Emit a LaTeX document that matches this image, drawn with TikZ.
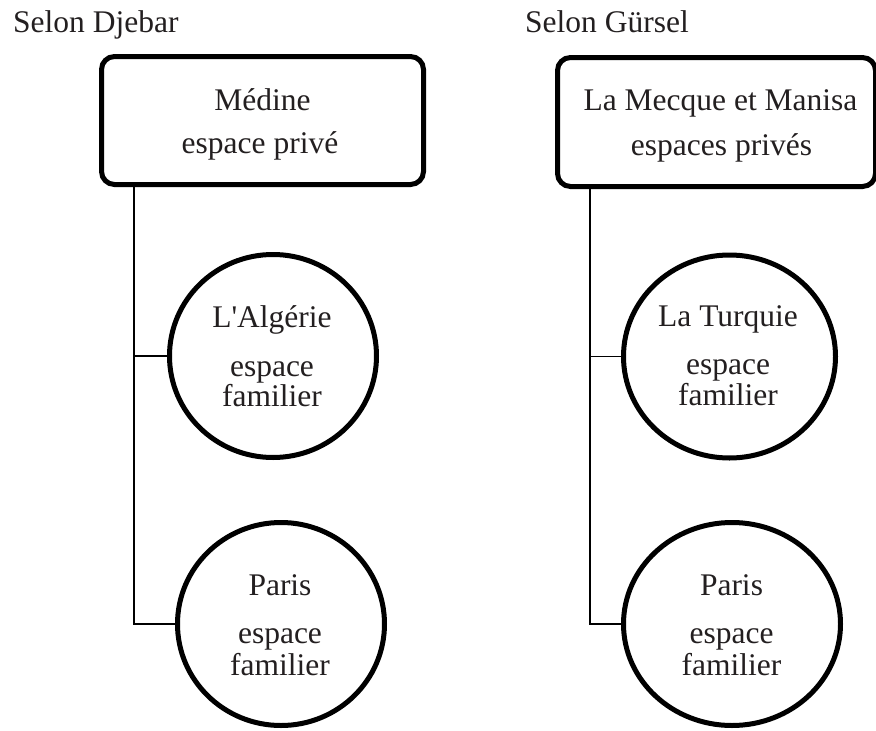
\documentclass[tikz,border=0pt]{standalone}
\usepackage{fontspec}
\setmainfont{Liberation Serif}
\usetikzlibrary{shapes.geometric}
\definecolor{ink}{RGB}{35,31,32}
\begin{document}
\begin{tikzpicture}[x=1pt,y=-1pt,
  txt/.style={anchor=base, inner sep=0pt, text=ink, font=\fontsize{31.5}{31.5}\selectfont},
  placebox/.style={draw=black, line width=5pt, rounded corners=13pt, inner sep=0pt},
  placering/.style={draw=black, line width=5pt, ellipse, inner sep=0pt},
  link/.style={draw=black, line width=1.8pt}]
\useasboundingbox (0,0) rectangle (876,731);

% column titles
\node[txt, anchor=base west] (tL) at (13,32) {Selon Djebar};
\node[txt, anchor=base west] (tR) at (525,32) {Selon Gürsel};

% private spaces (rounded boxes)
\node[placebox, minimum width=322pt, minimum height=128pt] (boxL) at (262.5,120.5) {};
\node[placebox, minimum width=318pt, minimum height=129pt] (boxR) at (716.5,122) {};
\node[txt] at (262.5,110) {Médine};
\node[txt] at (260,153) {espace privé};
\node[txt] at (720.5,110) {La Mecque et Manisa};
\node[txt] at (721.5,155) {espaces privés};

% familiar spaces (rings)
\node[placering, minimum width=207pt, minimum height=203pt] (aL) at (273,356) {};
\node[placering, minimum width=207pt, minimum height=203pt] (pL) at (281,624) {};
\node[placering, minimum width=212pt, minimum height=203pt] (aR) at (729.5,356.5) {};
\node[placering, minimum width=217pt, minimum height=203pt] (pR) at (732,624) {};

\node[txt] at (272,327) {L\textquotesingle Algérie};
\node[txt] at (272,376) {espace};
\node[txt] at (272,406) {familier};
\node[txt] at (728,326) {La Turquie};
\node[txt] at (728,374) {espace};
\node[txt] at (728,405) {familier};
\node[txt] at (280,595) {Paris};
\node[txt] at (280,643) {espace};
\node[txt] at (280,675) {familier};
\node[txt] at (731.5,595) {Paris};
\node[txt] at (731.5,643) {espace};
\node[txt] at (731.5,675) {familier};

% trunks and branches
\coordinate (jL) at (134,0);
\coordinate (jR) at (590,0);
\draw[link] (boxL.south -| jL) |- (pL.west);
\draw[link] (aL.west -| jL) -- (aL.west);
\draw[link] (boxR.south -| jR) |- (pR.west);
\draw[link] (aR.west -| jR) -- (aR.west);
\end{tikzpicture}
\end{document}
